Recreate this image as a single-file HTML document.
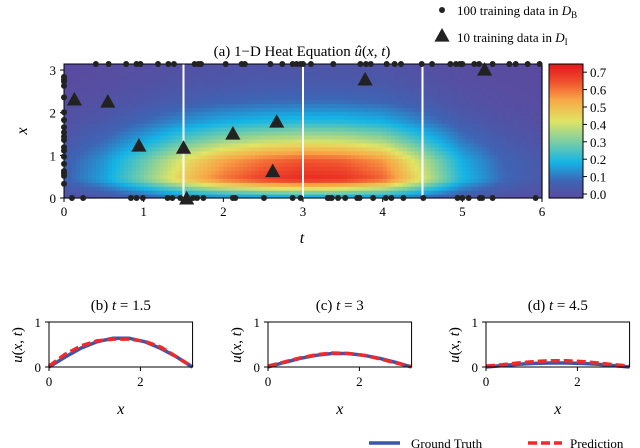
<!DOCTYPE html>
<html><head><meta charset="utf-8">
<style>
html,body{margin:0;padding:0;background:#fff;}
svg{display:block;font-family:"Liberation Serif",serif;}
</style></head>
<body>
<svg id="fig" width="640" height="448" viewBox="0 0 640 448"></svg>
<script>
// ---- heatmap data (separable estimate) ----
const heatT = [0,0.5,1,1.5,2,2.5,3,3.5,4,4.5,5,5.5,6];
const heatAmpT = [0.12,0.25,0.45,0.68,0.85,0.95,1.0,0.98,0.88,0.6,0.3,0.15,0.08];
const heatX = [0,0.45,0.9,1.35,1.8,2.25,2.7,3.15];
const heatProfileX = [0.2,0.95,0.85,0.55,0.3,0.15,0.08,0.05];
const heatPeak = 0.78;
// boundary points
const topT = [0.40,0.56,0.78,0.91,0.96,1.18,1.31,1.38,1.64,1.69,1.72,2.03,2.23,2.27,2.59,2.74,2.87,2.92,2.97,3.0,3.10,3.38,3.72,3.79,3.85,4.05,4.15,4.23,4.49,4.62,4.85,4.92,4.97,5.0,5.15,5.21,5.38,5.59,5.67,5.82,5.97];
const bottomT = [0.10,0.24,0.84,0.91,0.99,1.30,1.36,1.46,1.62,1.67,1.75,2.12,2.15,2.51,2.87,2.97,3.31,3.33,3.36,3.44,3.53,3.68,3.71,3.88,4.04,4.11,4.26,4.51,4.94,5.0,5.08,5.22,5.25,5.38,5.92];
const leftX = [2.84,2.78,2.73,2.63,2.36,2.01,1.83,1.66,1.54,1.44,1.36,1.19,1.11,0.97,0.80,0.63,0.58,0.52,0.33];
const triT = [0.13,0.55,0.94,1.5,2.12,2.67,2.62,1.54,3.78,5.28];
const triX = [2.3,2.25,1.22,1.17,1.5,1.78,0.62,-0.02,2.77,3.0];
const tTicks = [0,1,2,3,4,5,6];
const xTicks = [0,1,2,3];
const cbTicks = [0.0,0.1,0.2,0.3,0.4,0.5,0.6,0.7];
const sliceT = [1.5,3,4.5];
// ---- slice data ----
const sliceXs = [0,0.35,0.7,1.05,1.4,1.75,2.1,2.45,2.8,3.14];
const truthB = [0,0.22,0.42,0.56,0.64,0.64,0.56,0.41,0.22,0];
const predB = [0.02,0.28,0.47,0.58,0.62,0.62,0.57,0.44,0.22,0];
const truthC = [0,0.10,0.19,0.26,0.30,0.30,0.26,0.19,0.10,0];
const predC = [0.02,0.11,0.20,0.27,0.31,0.30,0.26,0.18,0.09,0.01];
const truthD = [0,0.03,0.06,0.08,0.09,0.09,0.08,0.06,0.03,0];
const predD = [0.02,0.05,0.09,0.12,0.14,0.14,0.12,0.09,0.05,0.02];

const NS="http://www.w3.org/2000/svg";
const svg=document.getElementById('fig');
function mk(tag,attrs,parent){const e=document.createElementNS(NS,tag);for(const k in attrs)e.setAttribute(k,attrs[k]);(parent||svg).appendChild(e);return e;}
function txt(s,x,y,attrs,parent){const e=mk('text',Object.assign({x:x,y:y},attrs||{}),parent);e.innerHTML=s;return e;}
// axes main
const X0=64,X1=542,Y0=198,YPI=64;
const sx=t=>X0+(X1-X0)*t/6;
const sy=x=>Y0-(Y0-YPI)*x/Math.PI;
function interp(xs,ys,v){if(v<=xs[0])return ys[0];for(let i=1;i<xs.length;i++){if(v<=xs[i]){const f=(v-xs[i-1])/(xs[i]-xs[i-1]);return ys[i-1]+f*(ys[i]-ys[i-1]);}}return ys[ys.length-1];}
const stops=[[0,[91,74,158]],[0.13,[62,100,180]],[0.27,[20,180,230]],[0.42,[120,205,165]],[0.58,[225,228,100]],[0.74,[248,165,70]],[0.88,[240,75,45]],[1,[225,25,30]]];
const VMAX=0.77;
function cmap(v){let s=Math.max(0,Math.min(1,v/VMAX));for(let i=1;i<stops.length;i++){if(s<=stops[i][0]){const f=(s-stops[i-1][0])/(stops[i][0]-stops[i-1][0]);const a=stops[i-1][1],b=stops[i][1];return `rgb(${Math.round(a[0]+f*(b[0]-a[0]))},${Math.round(a[1]+f*(b[1]-a[1]))},${Math.round(a[2]+f*(b[2]-a[2]))})`;}}return 'rgb(225,25,30)';}
const hm=mk('g',{});


const NT=120,NX=34;
for(let i=0;i<NT;i++){for(let j=0;j<NX;j++){
  const t=(i+0.5)*6/NT, x=(j+0.5)*Math.PI/NX;
  const v=heatPeak*interp(heatT,heatAmpT,t)*interp(heatX,heatProfileX,x);
  const xa=sx(i*6/NT), xb=sx((i+1)*6/NT), ya=sy((j+1)*Math.PI/NX), yb=sy(j*Math.PI/NX);
  const r=mk('rect',{x:xa,y:ya,width:xb-xa+0.6,height:yb-ya+0.6,fill:cmap(v)},hm);
  
  
}}
// slice lines
sliceT.forEach(t=>{const l=mk('line',{x1:sx(t),x2:sx(t),y1:YPI,y2:Y0,stroke:'#fff','stroke-width':2});
 });
const frame=mk('rect',{x:X0,y:YPI,width:X1-X0,height:Y0-YPI,fill:'none',stroke:'#000','stroke-width':1});

// ticks
tTicks.forEach(t=>{mk('line',{x1:sx(t),x2:sx(t),y1:Y0,y2:Y0+4,stroke:'#000'});const e=txt(t,sx(t),Y0+18,{'text-anchor':'middle','font-size':13});});
xTicks.forEach(x=>{mk('line',{x1:X0-4,x2:X0,y1:sy(x),y2:sy(x),stroke:'#000'});const e=txt(x,X0-8,sy(x)+5,{'text-anchor':'end','font-size':13});});
let e=txt('t',302,243,{'text-anchor':'middle','font-size':16,'font-style':'italic'});
e=txt('x',0,0,{'text-anchor':'middle','font-size':16,'font-style':'italic',transform:'translate(27,131) rotate(-90)'});
e=txt('(a) 1−D Heat Equation <tspan font-style="italic">û</tspan>(<tspan font-style="italic">x</tspan>, <tspan font-style="italic">t</tspan>)',302,56,{'text-anchor':'middle','font-size':15});
// points
topT.forEach(t=>{const c=mk('circle',{cx:sx(t),cy:YPI,r:3,fill:'#222'});});
bottomT.forEach(t=>{const c=mk('circle',{cx:sx(t),cy:Y0,r:3,fill:'#222'});});
leftX.forEach(x=>{const c=mk('circle',{cx:sx(0),cy:sy(x),r:3,fill:'#222'});});
function tri(cx,cy,s,parent){return mk('polygon',{points:`${cx},${cy-s} ${cx-s*0.95},${cy+s*0.7} ${cx+s*0.95},${cy+s*0.7}`,fill:'#222'},parent);}
triT.forEach((t,i)=>{const p=tri(sx(t),sy(triX[i]),8);});
// colorbar
const CB0=549,CB1=583,CBT=64,CBB=198;
const cbY=v=>CBB-(CBB-CBT)*v/VMAX;
const cb=mk('g',{});
for(let k=0;k<67;k++){const v0=k*VMAX/67,v1=(k+1)*VMAX/67;mk('rect',{x:CB0,y:cbY(v1),width:CB1-CB0,height:cbY(v0)-cbY(v1)+0.6,fill:cmap((v0+v1)/2)},cb);}
mk('rect',{x:CB0,y:CBT,width:CB1-CB0,height:CBB-CBT,fill:'none',stroke:'#000'},cb);
cbTicks.forEach(v=>{mk('line',{x1:CB1,x2:CB1+4,y1:cbY(v)-4,y2:cbY(v)-4,stroke:'#000'},cb);const t=txt(v.toFixed(1),CB1+7,cbY(v)+1,{'font-size':13},cb);});
// top legend
const lg=mk('g',{});
mk('circle',{cx:442,cy:10,r:3,fill:'#222'},lg);
txt('100 training data in <tspan font-style="italic">D</tspan><tspan font-size="9" dy="3">B</tspan>',457,15,{'font-size':13},lg);
tri(442,36,8,lg);
txt('10 training data in <tspan font-style="italic">D</tspan><tspan font-size="9" dy="3">I</tspan>',457,42,{'font-size':13},lg);
// slice plots
const panels=[{x0:49,title:'(b) <tspan font-style="italic">t</tspan> = 1.5',tr:truthB,pr:predB,name:'panel-b'},
{x0:268,title:'(c) <tspan font-style="italic">t</tspan> = 3',tr:truthC,pr:predC,name:'panel-c'},
{x0:486,title:'(d) <tspan font-style="italic">t</tspan> = 4.5',tr:truthD,pr:predD,name:'panel-d'}];
panels.forEach(p=>{
 const g=mk('g',{});
 const px=x=>p.x0+45.7*x, py=u=>367-45*u;
 const W=px(Math.PI)-p.x0;
 const pts=a=>sliceXs.map((x,i)=>`${px(x)},${py(a[i])}`).join(' ');
 const l1=mk('polyline',{points:pts(p.tr),fill:'none',stroke:'#3a55b0','stroke-width':3.5},g);
 
 const l2=mk('polyline',{points:pts(p.pr),fill:'none',stroke:'#ee2a2a','stroke-width':3.5,'stroke-dasharray':'9,4'},g);
 
 mk('rect',{x:p.x0,y:322,width:W,height:45,fill:'none',stroke:'#000','stroke-width':1},g);
 [0,2].forEach(x=>{mk('line',{x1:px(x),x2:px(x),y1:367,y2:371,stroke:'#000'},g);txt(x,px(x),386,{'text-anchor':'middle','font-size':13},g);});
 [0,1].forEach(u=>{mk('line',{x1:p.x0-4,x2:p.x0,y1:py(u),y2:py(u),stroke:'#000'},g);txt(u,p.x0-8,py(u)+5,{'text-anchor':'end','font-size':13},g);});
 txt('x',p.x0+W/2,414,{'text-anchor':'middle','font-size':16,'font-style':'italic'},g);
 txt('<tspan font-style="italic">u</tspan>(<tspan font-style="italic">x</tspan>, <tspan font-style="italic">t</tspan>)',0,0,{'text-anchor':'middle','font-size':15,transform:`translate(${p.x0-27},345) rotate(-90)`},g);
 txt(p.title,p.x0+W/2,310,{'text-anchor':'middle','font-size':15},g);
});
// bottom legend
const bl=mk('g',{});
mk('line',{x1:369,x2:400,y1:443,y2:443,stroke:'#3a55b0','stroke-width':3.5},bl);
txt('Ground Truth',411,448,{'font-size':13},bl);
mk('line',{x1:528,x2:562,y1:443,y2:443,stroke:'#ee2a2a','stroke-width':3.5,'stroke-dasharray':'9,4'},bl);
txt('Prediction',570,448,{'font-size':13},bl);
</script>
</body></html>
